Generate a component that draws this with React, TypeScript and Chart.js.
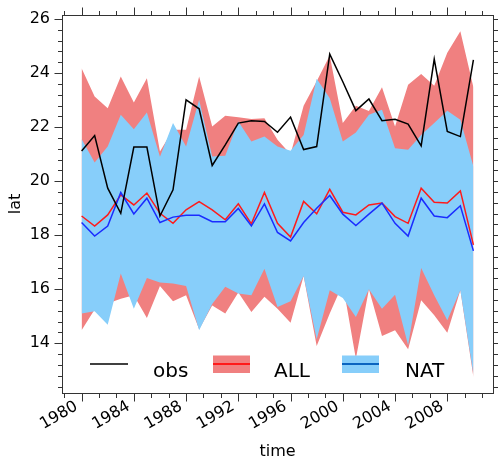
import React, { useEffect, useRef } from "react";
import { Chart, registerables } from "chart.js";

Chart.register(...registerables);

// ---------- data ----------
const years = [
  1980, 1981, 1982, 1983, 1984, 1985, 1986, 1987, 1988, 1989,
  1990, 1991, 1992, 1993, 1994, 1995, 1996, 1997, 1998, 1999,
  2000, 2001, 2002, 2003, 2004, 2005, 2006, 2007, 2008, 2009, 2010,
];

const obs = [
  21.12, 21.69, 19.74, 18.81, 21.26, 21.26, 18.71, 19.68, 23.01, 22.68,
  20.58, 21.34, 22.15, 22.24, 22.21, 21.81, 22.37, 21.17, 21.28, 24.7,
  23.68, 22.61, 23.04, 22.24, 22.29, 22.11, 21.31, 24.52, 21.84, 21.65, 24.49,
];

const allMean = [
  18.71, 18.34, 18.75, 19.49, 19.12, 19.56, 18.81, 18.44, 18.94, 19.24,
  18.94, 18.57, 19.16, 18.42, 19.58, 18.44, 17.93, 19.25, 18.79, 19.7,
  18.85, 18.75, 19.12, 19.19, 18.69, 18.44, 19.74, 19.22, 19.19, 19.64, 17.64,
];

const natMean = [
  18.47, 17.97, 18.34, 19.58, 18.79, 19.37, 18.47, 18.67, 18.74, 18.74,
  18.5, 18.5, 18.99, 18.34, 19.16, 18.1, 17.79, 18.47, 19.0, 19.47,
  18.78, 18.36, 18.78, 19.19, 18.44, 17.97, 19.37, 18.71, 18.65, 19.09, 17.42,
];

const allUpper = [
  24.18, 23.13, 22.7, 23.87, 22.91, 23.81, 21.1, 21.9, 21.9, 23.87,
  22.02, 22.42, 22.37, 22.3, 22.33, 21.53, 21.0, 22.79, 23.7, 24.65,
  22.15, 22.79, 22.6, 23.48, 22.02, 23.57, 23.97, 23.53, 24.75, 25.55, 23.48,
];

const allLower = [
  14.48, 15.25, 15.47, 15.65, 15.78, 14.94, 16.12, 15.56, 15.78, 14.52,
  15.4, 15.1, 15.88, 15.16, 15.72, 15.28, 14.76, 16.49, 13.9, 15.1,
  16.2, 13.43, 16.0, 14.27, 14.48, 13.78, 15.59, 15.04, 14.39, 15.96, 12.75,
];

const natUpper = [
  21.56, 20.69, 21.28, 22.46, 21.92, 22.54, 20.9, 22.15, 21.28, 23.01,
  20.91, 20.94, 22.21, 21.47, 21.65, 21.28, 21.13, 21.71, 23.79, 23.07,
  21.47, 21.8, 22.46, 22.64, 21.22, 21.16, 21.71, 22.15, 22.61, 22.27, 20.54,
];

const natLower = [
  15.1, 15.19, 14.69, 16.58, 15.28, 16.42, 16.25, 16.21, 16.12, 14.48,
  15.45, 16.09, 15.84, 15.78, 16.76, 15.34, 15.56, 16.49, 14.15, 15.96,
  15.68, 14.97, 16.0, 15.28, 15.8, 13.93, 16.79, 15.78, 14.85, 15.96, 12.85,
];

const xTicks = [1980, 1984, 1988, 1992, 1996, 2000, 2004, 2008];
const yTicks = [14, 16, 18, 20, 22, 24, 26];
const xRange = [1978.5, 2011.5];
const yRange = [12.16, 26.15];
const seriesLabels = ["obs", "ALL", "NAT"];
const xTitle = "time";
const yTitle = "lat";

// ---------- styles ----------
const FONT = "DejaVu Sans";
const C = {
  obs: "#000000",
  allLine: "#ff1a1a",
  allBand: "#f08080",
  natLine: "#1a2cff",
  natBand: "#87cefa",
  natLegendLine: "#0a64c0",
  frame: "#333333",
};

const mplAxes = {
  id: "mplAxes",
  afterDraw(chart: any) {
    const { ctx, chartArea, scales } = chart;
    const xs = scales.x;
    const ys = scales.y;
    const L = Math.round(chartArea.left);
    const R = Math.round(chartArea.right);
    const T = Math.round(chartArea.top);
    const B = Math.round(chartArea.bottom);
    ctx.save();
    ctx.strokeStyle = C.frame;
    ctx.lineWidth = 1;
    ctx.strokeRect(L + 0.5, T + 0.5, R - L, B - T);

    const line = (x1: number, y1: number, x2: number, y2: number) => {
      ctx.beginPath();
      ctx.moveTo(x1, y1);
      ctx.lineTo(x2, y2);
      ctx.stroke();
    };
    const maj = 8;
    const min = 4.5;
    // x ticks (major every 4 years, two minor between)
    const xStep = (xTicks[1] - xTicks[0]) / 3;
    for (let k = -20; k < 200; k++) {
      const v = xTicks[0] + k * xStep;
      if (v < xs.min || v > xs.max) continue;
      const len = k % 3 === 0 ? maj : min;
      const px = Math.round(xs.getPixelForValue(v)) + 0.5;
      line(px, B + 0.5, px, B + 0.5 + len);
      line(px, T + 0.5, px, T + 0.5 - len);
    }
    // y ticks (major every 2, four minor between)
    const yStep = (yTicks[1] - yTicks[0]) / 5;
    for (let k = -20; k < 200; k++) {
      const v = yTicks[0] + k * yStep;
      if (v < ys.min || v > ys.max) continue;
      const len = k % 5 === 0 ? maj : min;
      const py = Math.round(ys.getPixelForValue(v)) + 0.5;
      line(L + 0.5, py, L + 0.5 - len, py);
      line(R + 0.5, py, R + 0.5 + len, py);
    }

    // legend (inside the axes, bottom)
    const cy = B - 29;
    ctx.font = `20px "${FONT}"`;
    ctx.fillStyle = "#000";
    ctx.textBaseline = "alphabetic";
    ctx.textAlign = "left";
    // obs
    ctx.strokeStyle = C.obs;
    ctx.lineWidth = 1.5;
    line(L + 28, cy, L + 66, cy);
    ctx.fillText(seriesLabels[0], L + 91, cy + 13);
    // ALL
    ctx.fillStyle = C.allBand;
    ctx.fillRect(L + 151, cy - 8.5, 37, 17.5);
    ctx.strokeStyle = C.allLine;
    ctx.lineWidth = 2;
    line(L + 151, cy, L + 188, cy);
    ctx.fillStyle = "#000";
    ctx.fillText(seriesLabels[1], L + 212, cy + 13);
    // NAT
    ctx.fillStyle = C.natBand;
    ctx.fillRect(L + 280, cy - 8.5, 37, 17.5);
    ctx.strokeStyle = C.natLegendLine;
    ctx.lineWidth = 2;
    line(L + 280, cy, L + 317, cy);
    ctx.fillStyle = "#000";
    ctx.fillText(seriesLabels[2], L + 343, cy + 13);
    ctx.restore();
  },
};

export default function App() {
  const ref = useRef<HTMLCanvasElement>(null);

  useEffect(() => {
    if (!ref.current) return;
    const pts = (arr: number[]) => years.map((x, i) => ({ x, y: arr[i] }));
    const base = { pointRadius: 0, pointHoverRadius: 0, tension: 0 };

    const chart = new Chart(ref.current, {
      type: "line",
      data: {
        datasets: [
          { ...base, label: seriesLabels[0], data: pts(obs), borderColor: C.obs, borderWidth: 1.5, fill: false, order: 0 },
          { ...base, label: seriesLabels[2] + " mean", data: pts(natMean), borderColor: C.natLine, borderWidth: 1.5, fill: false, order: 1 },
          { ...base, label: seriesLabels[1] + " mean", data: pts(allMean), borderColor: C.allLine, borderWidth: 1.5, fill: false, order: 2 },
          { ...base, label: seriesLabels[2] + " upper", data: pts(natUpper), borderWidth: 0, borderColor: "rgba(0,0,0,0)", backgroundColor: C.natBand, fill: "+1", order: 3 },
          { ...base, label: seriesLabels[2] + " lower", data: pts(natLower), borderWidth: 0, borderColor: "rgba(0,0,0,0)", fill: false, order: 3 },
          { ...base, label: seriesLabels[1] + " upper", data: pts(allUpper), borderWidth: 0, borderColor: "rgba(0,0,0,0)", backgroundColor: C.allBand, fill: "+1", order: 5 },
          { ...base, label: seriesLabels[1] + " lower", data: pts(allLower), borderWidth: 0, borderColor: "rgba(0,0,0,0)", fill: false, order: 5 },
        ],
      },
      options: {
        responsive: false,
        animation: false,
        events: [],
        layout: { padding: { left: 0, right: 5, top: 15, bottom: 0 } },
        plugins: {
          legend: { display: false },
          tooltip: { enabled: false },
        },
        scales: {
          x: {
            type: "linear",
            min: xRange[0],
            max: xRange[1],
            afterBuildTicks: (s: any) => {
              s.ticks = xTicks.map((v) => ({ value: v }));
            },
            afterFit: (s: any) => {
              s.height = 68;
              s.paddingLeft = 0;
              s.paddingRight = 0;
            },
            grid: { display: false, drawTicks: false },
            border: { display: false },
            ticks: {
              autoSkip: false,
              minRotation: 30,
              maxRotation: 30,
              padding: 4,
              labelOffset: -5,
              color: "#000",
              font: { family: FONT, size: 16 },
              callback: (v: any) => String(v),
            },
            title: {
              display: true,
              text: xTitle,
              color: "#000",
              font: { family: FONT, size: 16 },
              padding: { top: 0, bottom: 0 },
            },
          },
          y: {
            type: "linear",
            min: yRange[0],
            max: yRange[1],
            afterBuildTicks: (s: any) => {
              s.ticks = yTicks.map((v) => ({ value: v }));
            },
            afterFit: (s: any) => {
              s.width = 62;
              s.paddingTop = 0;
              s.paddingBottom = 0;
            },
            grid: { display: false, drawTicks: false },
            border: { display: false },
            ticks: {
              padding: 12,
              color: "#000",
              font: { family: FONT, size: 16 },
              callback: (v: any) => String(v),
            },
            title: {
              display: true,
              text: yTitle,
              color: "#000",
              font: { family: FONT, size: 16 },
              padding: { top: 6, bottom: 0 },
            },
          },
        },
      },
      plugins: [mplAxes],
    } as any);

    return () => chart.destroy();
  }, []);

  return (
    <div style={{ position: "fixed", left: 0, top: 0, width: 498, height: 461, background: "#fff" }}>
      <canvas ref={ref} width={498} height={461} style={{ display: "block" }} />
    </div>
  );
}
